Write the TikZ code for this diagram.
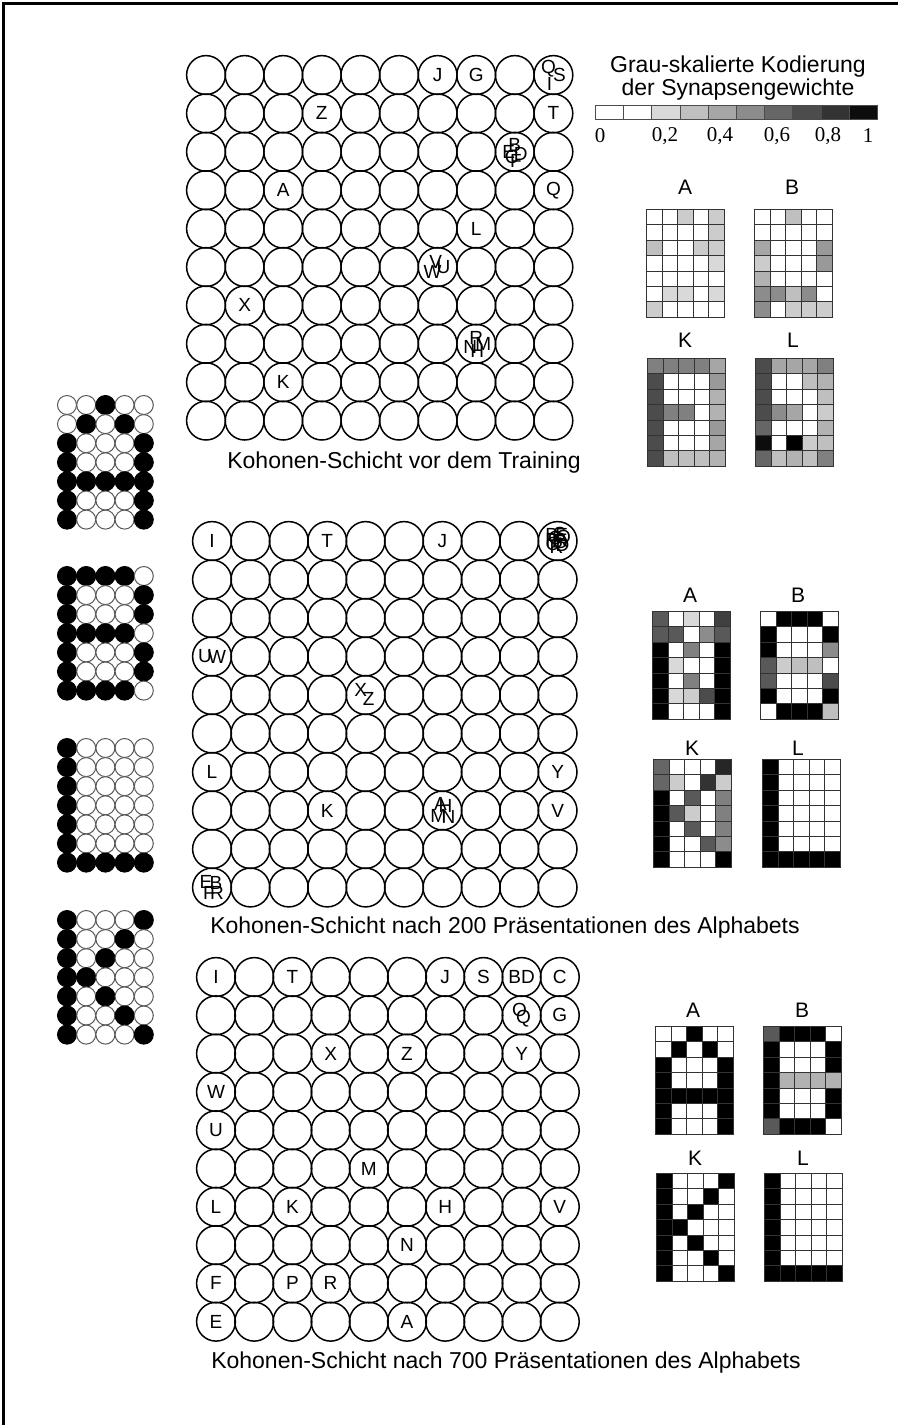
\documentclass[tikz,border=0pt]{standalone}
\usepackage{fontspec}
\setmainfont{Liberation Sans}
\newfontfamily\numfont{Liberation Serif}
\usetikzlibrary{positioning}

% Kohonen layer: name, x0, y0, dx, dy
\newcommand{\kgrid}[5]{%
  \foreach \kr in {1,...,10} {
    \foreach \kc in {1,...,10} {
      \node[unit] (#1-\kr-\kc) at ({#2+(\kc-1)*#4},{#3+(\kr-1)*#5}) {};
    }
  }
}
% weight matrix 5x7: name, x0, y0, rows
\newcommand{\wgrid}[4]{%
  \foreach \wcells [count=\wr] in {#4} {
    \foreach \wv [count=\wc] in \wcells {
      \node[wcell, fill=black!\wv] (#1-\wr-\wc) at ({#2+(\wc-1)*15.5},{#3+(\wr-1)*15.4}) {};
    }
  }
}
% dot pattern 5x7: name, x0, y0, rows of bits
\newcommand{\dotchar}[4]{%
  \foreach \dcells [count=\dr] in {#4} {
    \foreach \db [count=\dc] in \dcells {
      \node[pix\db] (#1-\dr-\dc) at ({#2+(\dc-1)*19.2},{#3+(\dr-1)*19.1}) {};
    }
  }
}

\begin{document}
\begin{tikzpicture}[
    x=0.5pt, y=-0.5pt,
    font=\fontsize{11.5}{11.5}\selectfont,
    unit/.style={draw, circle, line width=0.75pt, minimum size=19.4pt, inner sep=0pt},
    tag/.style={font=\fontsize{9.5}{9.5}\selectfont, inner sep=0pt},
    wcell/.style={draw=black!80, line width=0.5pt, anchor=north west, minimum width=7.75pt, minimum height=7.7pt, inner sep=0pt},
    wlabel/.style={font=\fontsize{10.5}{10.5}\selectfont, inner sep=0pt},
    pix0/.style={draw=black!65, fill=white, circle, line width=0.5pt, minimum size=9.5pt, inner sep=0pt},
    pix1/.style={pix0, draw=black, fill=black},
    seg/.style={draw=black!70, line width=0.5pt, anchor=north west, minimum width=14.1pt, minimum height=7pt, inner sep=0pt},
    caption/.style={inner sep=0pt}
]
    \useasboundingbox (0,0) rectangle (898,1425);
    \draw[line width=1.5pt] (3,1425) -- (3,3) -- (898,3);

    % input patterns
    \dotchar{pa}{67}{405}{{0,0,1,0,0},{0,1,0,1,0},{1,0,0,0,1},{1,0,0,0,1},{1,1,1,1,1},{1,0,0,0,1},{1,0,0,0,1}}
    \dotchar{pb}{67}{576}{{1,1,1,1,0},{1,0,0,0,1},{1,0,0,0,1},{1,1,1,1,0},{1,0,0,0,1},{1,0,0,0,1},{1,1,1,1,0}}
    \dotchar{pl}{67}{748}{{1,0,0,0,0},{1,0,0,0,0},{1,0,0,0,0},{1,0,0,0,0},{1,0,0,0,0},{1,0,0,0,0},{1,1,1,1,1}}
    \dotchar{pk}{67}{920}{{1,0,0,0,1},{1,0,0,1,0},{1,0,1,0,0},{1,1,0,0,0},{1,0,1,0,0},{1,0,0,1,0},{1,0,0,0,1}}

    % legend
    \node[align=center, caption] (legend) at (738,78) {Grau-skalierte Kodierung\\der Synapsengewichte};
    \foreach \v [count=\i] in {0,0,15,25,35,45,60,70,80,95} {
        \node[seg, fill=black!\v] (bar-\i) at ({595+(\i-1)*28.2},105) {};
    }
    \foreach \x/\t in {600/0, 665/{0,2}, 720/{0,4}, 777/{0,6}, 828/{0,8}, 868/1} {
        \node[font=\numfont\fontsize{10.5}{10.5}\selectfont, inner sep=0pt] at (\x,136) {\t};
    }

    % layer before training
    \kgrid{ka}{206}{75}{38.6}{38.4}
    \foreach \r/\c/\t in {1/7/J, 1/8/G, 2/4/Z, 2/10/T, 4/3/A, 4/10/Q, 5/8/L, 7/2/X, 9/3/K} {
        \node[tag] at (ka-\r-\c) {\t};
    }
    \node[tag] at ([shift={(-5,-6)}]ka-1-10) {Q};
    \node[tag] at ([shift={(6,0)}]ka-1-10) {S};
    \node[tag] at ([shift={(-4,9)}]ka-1-10) {I};
    \node[tag] at ([shift={(0,-7)}]ka-3-9) {B};
    \node[tag] at ([shift={(-6,0)}]ka-3-9) {E};
    \node[tag] at ([shift={(6,2)}]ka-3-9) {D};
    \node[tag] at ([shift={(-3,5)}]ka-3-9) {C};
    \node[tag] at ([shift={(1,9)}]ka-3-9) {F};
    \node[tag] at ([shift={(-2,-5)}]ka-6-7) {V};
    \node[tag] at ([shift={(-5,5)}]ka-6-7) {W};
    \node[tag] at ([shift={(6,0)}]ka-6-7) {U};
    \node[tag] at ([shift={(0,-6)}]ka-8-8) {R};
    \node[tag] at ([shift={(-6,3)}]ka-8-8) {N};
    \node[tag] at ([shift={(7,0)}]ka-8-8) {M};
    \node[tag] at ([shift={(1,7)}]ka-8-8) {H};
    \node[caption] (cap1) at (404,463) {Kohonen-Schicht vor dem Training};

    \wgrid{wa1}{646}{209}{{0,0,20,0,20},{0,0,0,0,20},{25,0,0,20,20},{0,0,0,0,15},{0,0,0,0,0},{0,15,15,0,15},{20,0,0,0,0}}
    \wgrid{wb1}{754}{209}{{0,0,25,0,0},{0,0,0,0,0},{35,0,0,0,40},{20,0,0,0,40},{30,0,0,0,0},{45,45,25,45,0},{45,0,20,20,20}}
    \wgrid{wk1}{647}{358}{{50,50,50,50,35},{70,0,0,0,40},{70,0,0,0,30},{70,50,50,0,30},{70,0,0,0,40},{70,0,0,0,35},{70,25,25,25,30}}
    \wgrid{wl1}{755}{358}{{70,35,35,35,50},{70,0,0,25,30},{70,0,0,0,25},{70,45,35,0,20},{60,0,0,0,30},{95,0,100,20,25},{60,25,30,25,50}}
    \node[wlabel] at (685,187) {A};
    \node[wlabel] at (792,187) {B};
    \node[wlabel] at (685,340) {K};
    \node[wlabel] at (793,340) {L};

    % layer after 200 presentations
    \kgrid{kb}{212}{541}{38.4}{38.5}
    \foreach \r/\c/\t in {1/1/I, 1/4/T, 1/7/J, 7/1/L, 7/10/Y, 8/4/K, 8/10/V} {
        \node[tag] at (kb-\r-\c) {\t};
    }
    \foreach \dx/\dy/\t in {-6/-6/B, 4/-6/E, -5/3/C, 5/4/D, 0/0/F, -2/-3/G, 3/1/O, -6/-1/P, 6/-2/Q, -1/6/R, 2/-7/S} {
        \node[tag] at ([shift={(\dx,\dy)}]kb-1-10) {\t};
    }
    \node[tag] at ([shift={(-7,0)}]kb-4-1) {U};
    \node[tag] at ([shift={(5,0)}]kb-4-1) {W};
    \node[tag] at ([shift={(-5,-5)}]kb-5-5) {X};
    \node[tag] at ([shift={(3,4)}]kb-5-5) {Z};
    \node[tag] at ([shift={(-2,-7)}]kb-8-7) {A};
    \node[tag] at ([shift={(3,-5)}]kb-8-7) {H};
    \node[tag] at ([shift={(-4,5)}]kb-8-7) {M};
    \node[tag] at ([shift={(6,6)}]kb-8-7) {N};
    \node[tag] at ([shift={(-6,-6)}]kb-10-1) {E};
    \node[tag] at ([shift={(4,-5)}]kb-10-1) {B};
    \node[tag] at ([shift={(-3,5)}]kb-10-1) {F};
    \node[tag] at ([shift={(5,5)}]kb-10-1) {R};
    \node[caption] (cap2) at (505,928) {Kohonen-Schicht nach 200 Präsentationen des Alphabets};

    \wgrid{wa2}{652}{611}{{65,0,15,0,75},{65,65,0,45,65},{100,0,50,0,100},{100,15,0,0,100},{100,0,50,0,100},{100,15,20,70,100},{100,0,0,0,100}}
    \wgrid{wb2}{760}{611}{{0,100,100,100,0},{100,0,0,0,100},{100,0,0,0,45},{65,20,25,25,0},{65,0,0,0,70},{100,0,0,0,100},{0,100,100,100,25}}
    \wgrid{wk2}{653}{759}{{60,0,0,0,85},{60,20,0,80,20},{100,0,65,0,50},{100,65,20,0,50},{100,0,65,0,50},{100,0,0,65,45},{100,0,0,0,100}}
    \wgrid{wl2}{762}{759}{{100,0,0,0,0},{100,0,0,0,0},{100,0,0,0,0},{100,0,0,0,0},{100,0,0,0,0},{100,0,0,0,0},{100,100,100,100,100}}
    \node[wlabel] at (690,595) {A};
    \node[wlabel] at (798,595) {B};
    \node[wlabel] at (692,748) {K};
    \node[wlabel] at (798,748) {L};

    % layer after 700 presentations
    \kgrid{kc}{216}{977}{38.2}{38.3}
    \foreach \r/\c/\t in {1/1/I, 1/3/T, 1/7/J, 1/8/S, 1/9/BD, 1/10/C, 2/10/G, 3/4/X, 3/6/Z, 3/9/Y, 4/1/W, 5/1/U, 6/5/M, 7/1/L, 7/3/K, 7/7/H, 7/10/V, 8/6/N, 9/1/F, 9/3/P, 9/4/R, 10/1/E, 10/6/A} {
        \node[tag] at (kc-\r-\c) {\t};
    }
    \node[tag] at ([shift={(-2,-5)}]kc-2-9) {O};
    \node[tag] at ([shift={(2,3)}]kc-2-9) {Q};
    \node[caption] (cap3) at (506,1363) {Kohonen-Schicht nach 700 Präsentationen des Alphabets};

    \wgrid{wa3}{655}{1026}{{0,0,100,0,0},{0,100,0,100,0},{100,0,0,0,100},{100,0,0,0,100},{100,100,100,100,100},{100,0,0,0,100},{100,0,0,0,100}}
    \wgrid{wb3}{763}{1026}{{65,100,100,100,0},{100,0,0,0,100},{100,0,0,0,100},{100,30,30,30,30},{100,0,0,0,100},{100,0,0,0,100},{65,100,100,100,0}}
    \wgrid{wk3}{656}{1173}{{100,0,0,0,100},{100,0,0,100,0},{100,0,100,0,0},{100,100,0,0,0},{100,0,100,0,0},{100,0,0,100,0},{100,0,0,0,100}}
    \wgrid{wl3}{764}{1173}{{100,0,0,0,0},{100,0,0,0,0},{100,0,0,0,0},{100,0,0,0,0},{100,0,0,0,0},{100,0,0,0,0},{100,100,100,100,100}}
    \node[wlabel] at (693,1010) {A};
    \node[wlabel] at (802,1010) {B};
    \node[wlabel] at (695,1158) {K};
    \node[wlabel] at (803,1158) {L};
\end{tikzpicture}
\end{document}
